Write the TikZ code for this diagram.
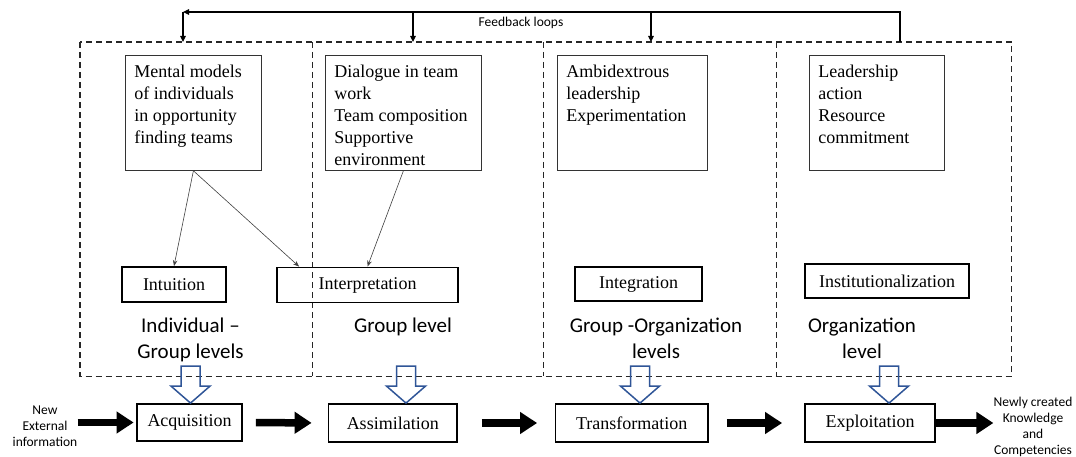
\documentclass[tikz,border=0pt]{standalone}
\usepackage{fontspec}
\setmainfont{Liberation Serif}
\newfontfamily\calib{Carlito}
\usetikzlibrary{arrows.meta,calc}

% text of a factor box: fixed height, top aligned, explicit lines
\newcommand\factortext[2]{\parbox[t][115pt][t]{#1}{\fontsize{18}{22}\selectfont\raggedright\rule{0pt}{22.5pt}#2}}

\begin{document}
\begin{tikzpicture}[x=1pt,y=-1pt,
  zone/.style={anchor=north west, inner sep=0pt, minimum height=334pt},
  zoneline/.style={draw=black!85, dash pattern=on 6pt off 4pt, line width=1.5pt},
  factorbox/.style={draw=black!80, line width=0.8pt, anchor=north west, inner xsep=9pt, inner ysep=0pt},
  stagebox/.style={draw=black, line width=1.8pt, inner sep=0pt, minimum height=35pt,
    font=\fontsize{18}{22}\selectfont},
  levellabel/.style={font=\calib\fontsize{21}{26}\selectfont, align=center, inner sep=0pt, anchor=north},
  sidetext/.style={font=\calib\fontsize{13.5}{16}\selectfont, align=center, inner sep=0pt},
  influence/.style={draw=black!75, line width=0.6pt, -{Stealth[length=6pt,width=4.5pt]}},
  feedback/.style={draw=black, line width=1.2pt, -{Triangle[length=6pt,width=5.5pt]}},
  flow/.style={draw=black, line width=7.5pt, -{Triangle[length=17pt,width=21pt]}},
  blockarrow/.style={draw={rgb,255:red,47;green,85;blue,151}, line width=1.5pt, line join=miter},
  downblock/.pic={\draw[blockarrow] (-9.5,-37) -- (9.5,-37) -- (9.5,-17) -- (19.5,-17)
      -- (0,0) -- (-19.5,-17) -- (-9.5,-17) -- cycle;}
]
\useasboundingbox (0,0) rectangle (1076,457);

% level zones
\node[zone, minimum width=232pt] (zone1) at (80,42) {};
\node[zone, minimum width=231pt] (zone2) at (312,42) {};
\node[zone, minimum width=233pt] (zone3) at (543,42) {};
\node[zone, minimum width=235pt] (zone4) at (776,42) {};
\draw[zoneline] (zone1.north west) rectangle (zone4.south east);
\draw[zoneline] (zone1.north east) -- (zone1.south east);
\draw[zoneline] (zone2.north east) -- (zone2.south east);
\draw[zoneline] (zone3.north east) -- (zone3.south east);

% feedback loops
\coordinate (fbsrc) at (900,42);
\coordinate (fb1) at (183,12);
\coordinate (fb2) at (413,12);
\coordinate (fb3) at (651,12);
\draw[feedback] (fbsrc) |- (fb1);
\draw[feedback] (fb1) -- (fb1 |- zone1.north);
\draw[feedback] (fb2) -- (fb2 |- zone2.north);
\draw[feedback] (fb3) -- (fb3 |- zone3.north);
\node[font=\calib\fontsize{13.5}{16}\selectfont, inner sep=0pt] (fblabel) at (521,23) {Feedback loops};

% factor boxes
\node[factorbox] (mental) at (125,55) {\factortext{118pt}{Mental models\\of individuals\\in opportunity\\finding teams}};
\node[factorbox] (dialogue) at (325,55) {\factortext{138pt}{Dialogue in team\\work\\Team composition\\Supportive\\environment}};
\node[factorbox] (ambi) at (557,55) {\factortext{132pt}{Ambidextrous\\leadership\\Experimentation}};
\node[factorbox] (lead) at (809,55) {\factortext{117pt}{Leadership\\action\\Resource\\commitment}};

% 4I stages
\node[stagebox, minimum width=104pt] (intu) at (174,284.5) {Intuition};
\node[stagebox, minimum width=181pt] (interp) at (367.5,285) {Interpretation};
\node[stagebox, minimum width=127pt, minimum height=34pt] (integ) at (638.5,284) {Integration};
\node[stagebox, minimum width=164pt, minimum height=34pt] (instit) at (887,281) {Institutionalization};

\draw[influence] (mental.south) -- (intu.north);
\draw[influence] (mental.south) -- ($(interp.north west)+(23,0)$);
\draw[influence] (dialogue.south) -- (interp.north);

% level labels
\node[levellabel] (lv1) at (190.5,318) {Individual –\\Group levels};
\node[levellabel] (lv2) at (403,318) {Group level};
\node[levellabel] (lv3) at (656,318) {Group -Organization\\levels};
\node[levellabel] (lv4) at (862,318) {Organization\\level};

% absorptive capacity process
\node[stagebox, minimum width=105pt, minimum height=37pt] (acq) at (189.5,422.5) {Acquisition};
\node[stagebox, minimum width=128.5pt, minimum height=38pt] (assim) at (392.75,423) {Assimilation};
\node[stagebox, minimum width=152.5pt, minimum height=38pt] (transf) at (631.75,423) {Transformation};
\node[stagebox, minimum width=130pt, minimum height=38pt] (expl) at (870,423) {Exploitation};

\node[sidetext] (newinfo) at (45,426) {New\\External\\information};
\node[sidetext] (newly) at (1033,427) {Newly created\\Knowledge\\and\\Competencies};

\draw[flow, shorten >=2.5pt] (newinfo.east |- acq.west) -- (acq.west);
\draw[flow, shorten <=13pt, shorten >=16pt] (acq.east) -- (assim.west);
\draw[flow, shorten <=24pt, shorten >=17.5pt] (assim.east) -- (transf.west);
\draw[flow, shorten <=18pt, shorten >=22pt] (transf.east) -- (expl.west);
\draw[flow] (expl.east) -- (newly.west |- expl.east);

% zones feeding the process
\pic at ($(acq.north)+(1,0)$) {downblock};
\pic at ($(assim.north)+(13.25,0)$) {downblock};
\pic at ($(transf.north)+(8.25,0)$) {downblock};
\pic at ($(expl.north)+(19,0)$) {downblock};
\end{tikzpicture}
\end{document}
